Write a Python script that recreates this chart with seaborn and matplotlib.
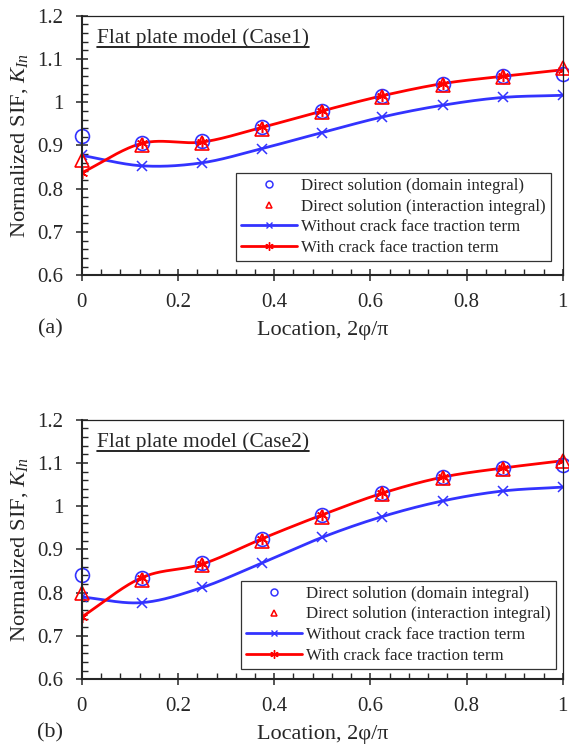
import numpy as np
import matplotlib
matplotlib.use('Agg')
import matplotlib.pyplot as plt
from matplotlib.lines import Line2D
from matplotlib.ticker import MultipleLocator
import seaborn as sns

LOCATION = [0, 0.125, 0.25, 0.375, 0.5, 0.625, 0.75, 0.875, 1.0]

CASE1_DOMAIN = [0.921, 0.905, 0.910, 0.943, 0.980, 1.015, 1.043, 1.060, 1.065]
CASE1_INTERACTION = [0.866, 0.900, 0.905, 0.938, 0.977, 1.012, 1.040, 1.058, 1.080]
CASE1_WITHOUT = [0.877, 0.853, 0.860, 0.893, 0.930, 0.966, 0.993, 1.011, 1.016]
CASE1_WITH = [0.837, 0.905, 0.908, 0.942, 0.980, 1.015, 1.043, 1.060, 1.075]

CASE2_DOMAIN = [0.841, 0.835, 0.868, 0.925, 0.980, 1.030, 1.067, 1.088, 1.096]
CASE2_INTERACTION = [0.800, 0.830, 0.864, 0.920, 0.976, 1.027, 1.064, 1.086, 1.104]
CASE2_WITHOUT = [0.790, 0.777, 0.812, 0.869, 0.928, 0.976, 1.012, 1.035, 1.044]
CASE2_WITH = [0.744, 0.835, 0.866, 0.925, 0.980, 1.030, 1.067, 1.088, 1.105]

LEGEND_LABELS = ['Direct solution (domain integral)',
                 'Direct solution (interaction integral)',
                 'Without crack face traction term',
                 'With crack face traction term']

BLUE = '#3333ff'
RED = '#ff0000'
ASTERISK = (6, 2, 0)


def smooth(x, y, n=40):
    # Catmull-Rom style curve through the points (like a spreadsheet "smoothed line")
    x = np.asarray(x, float)
    y = np.asarray(y, float)
    m = np.gradient(y, x)
    xs, ys = [], []
    for i in range(len(x) - 1):
        h = x[i + 1] - x[i]
        t = np.linspace(0, 1, n, endpoint=(i == len(x) - 2))
        h00 = 2 * t**3 - 3 * t**2 + 1
        h10 = t**3 - 2 * t**2 + t
        h01 = -2 * t**3 + 3 * t**2
        h11 = t**3 - t**2
        xs.append(x[i] + t * h)
        ys.append(h00 * y[i] + h10 * h * m[i] + h01 * y[i + 1] + h11 * h * m[i + 1])
    return np.concatenate(xs), np.concatenate(ys)


sns.set_style('ticks')
plt.rcParams['font.family'] = ['Liberation Serif', 'DejaVu Serif']
plt.rcParams['mathtext.fontset'] = 'custom'
plt.rcParams['mathtext.rm'] = 'Liberation Serif'
plt.rcParams['mathtext.it'] = 'Liberation Serif:italic'

fig = plt.figure(figsize=(5.69, 7.48), dpi=100)
ax_a = fig.add_axes([0.144, 0.632, 0.845, 0.347])
ax_b = fig.add_axes([0.144, 0.092, 0.845, 0.347])

panels = [
    (ax_a, 'Flat plate model (Case1)', '(a)', CASE1_DOMAIN, CASE1_INTERACTION,
     CASE1_WITHOUT, CASE1_WITH, (0.975, 0.054)),
    (ax_b, 'Flat plate model (Case2)', '(b)', CASE2_DOMAIN, CASE2_INTERACTION,
     CASE2_WITHOUT, CASE2_WITH, (0.986, 0.039)),
]

for ax, title, tag, dom, inter, without, with_, anchor in panels:
    sx, sy = smooth(LOCATION, without)
    sns.lineplot(x=sx, y=sy, ax=ax, color=BLUE, lw=2.0, sort=False, estimator=None)
    sx, sy = smooth(LOCATION, with_)
    sns.lineplot(x=sx, y=sy, ax=ax, color=RED, lw=2.0, sort=False, estimator=None)
    ax.plot(LOCATION, without, ls='none', marker='x', ms=7, mew=1.1, color=BLUE)
    ax.plot(LOCATION, with_, ls='none', marker=ASTERISK, ms=8, mew=1.1, color=RED)
    ax.plot(LOCATION, dom, ls='none', marker='o', ms=10, mew=1.2, mfc='none', mec=BLUE,
            clip_on=False)
    ax.plot(LOCATION, inter, ls='none', marker='^', ms=10, mew=1.2, mfc='none', mec=RED,
            clip_on=False)

    ax.set_xlim(0, 1)
    ax.set_ylim(0.6, 1.2)
    ax.xaxis.set_major_locator(MultipleLocator(0.2))
    ax.xaxis.set_minor_locator(MultipleLocator(0.04))
    ax.yaxis.set_major_locator(MultipleLocator(0.1))
    ax.yaxis.set_minor_locator(MultipleLocator(0.02))
    ax.xaxis.set_major_formatter(plt.FuncFormatter(lambda v, p: f'{v:g}'))
    ax.yaxis.set_major_formatter(plt.FuncFormatter(lambda v, p: f'{v:g}'))
    ax.tick_params(which='major', direction='inout', length=9, width=1.1,
                   labelsize=15, top=False, right=False)
    ax.tick_params(axis='y', which='major', pad=9)
    ax.tick_params(axis='x', which='major', pad=8)
    ax.tick_params(which='minor', direction='in', length=4, width=1.0,
                   top=False, right=False)
    for side in ['left', 'bottom']:
        ax.spines[side].set_linewidth(1.5)
    for side in ['top', 'right']:
        ax.spines[side].set_linewidth(0.9)
        ax.spines[side].set_color('#222222')

    ax.set_xlabel('Location, 2φ/π', fontsize=16, labelpad=7)
    ax.set_ylabel(r'Normalized SIF, $K_{In}$', fontsize=16.2)
    ax.yaxis.set_label_coords(-0.108, 0.5)

    handles = [
        Line2D([], [], ls='none', marker='o', ms=5, mfc='none', mec=BLUE, mew=1.1),
        Line2D([], [], ls='none', marker='^', ms=5, mfc='none', mec=RED, mew=1.1),
        Line2D([], [], color=BLUE, lw=2.0, marker='x', ms=5, mew=1.0),
        Line2D([], [], color=RED, lw=2.0, marker=ASTERISK, ms=6, mew=1.0),
    ]
    leg = ax.legend(handles, LEGEND_LABELS, loc='lower right', bbox_to_anchor=anchor,
                    fontsize=12.2, frameon=True, fancybox=False, framealpha=1,
                    edgecolor='#333333', handlelength=3.3, handletextpad=0.25,
                    labelspacing=0.28, borderpad=0.3, borderaxespad=0)
    leg.get_frame().set_linewidth(0.9)

    ax.text(0.031, 0.896, title, transform=ax.transAxes, fontsize=15.4,
            ha='left', va='baseline')
    pos = ax.get_position()
    fig.text(0.088, pos.y0 - 0.072, tag, fontsize=16, ha='center', va='center')

# underline the panel titles
fig.canvas.draw()
renderer = fig.canvas.get_renderer()
for ax in [ax_a, ax_b]:
    t = ax.texts[0]
    bb = t.get_window_extent(renderer).transformed(ax.transAxes.inverted())
    ax.plot([bb.x0, bb.x1], [0.878, 0.878], transform=ax.transAxes, color='black', lw=1.2)

fig.savefig('out.png', dpi=100)
